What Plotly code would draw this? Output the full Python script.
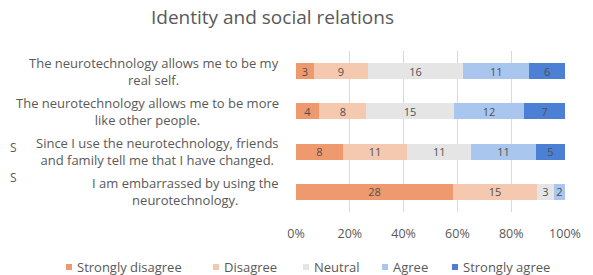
import plotly.graph_objects as go

categories = [
    "The neurotechnology allows me to be my<br>real self.",
    "The neurotechnology allows me to be more<br>like other people.",
    "Since I use the neurotechnology, friends<br>and family tell me that I have changed.",
    "I am embarrassed by using the<br>neurotechnology.",
]
series_names = ["Strongly disagree", "Disagree", "Neutral", "Agree", "Strongly agree"]
strongly_disagree = [3, 4, 8, 28]
disagree = [9, 8, 11, 15]
neutral = [16, 15, 11, 3]
agree = [11, 12, 11, 2]
strongly_agree = [6, 7, 5, 0]
colors = ["#EE9A6E", "#F5C9B0", "#E5E5E5", "#A9C7EE", "#4C80D4"]
tick_vals = [0, 20, 40, 60, 80, 100]
tick_text = ["0%", "20%", "40%", "60%", "80%", "100%"]

values = [strongly_disagree, disagree, neutral, agree, strongly_agree]
keys = ["c%d" % i for i in range(len(categories))]

FONT = "Open Sans"
GREY = "#595959"

# page body has a default 8px margin: compensate so that screen pixels match
OFF = 8
FW, FH = 593, 275

fig = go.Figure()
for name, vals, col in zip(series_names, values, colors):
    fig.add_trace(go.Bar(
        name=name, y=keys, x=vals, orientation="h",
        marker=dict(color=col, line=dict(width=0)),
        text=[str(v) if v else "" for v in vals],
        textposition="inside", insidetextanchor="middle", textangle=0,
        textfont=dict(size=11, color="#505050", family=FONT),
        width=0.4, showlegend=False,
    ))

# plot area in screen pixels
L, R, T, B = 296, 565, 51, 212
W, H = R - L, B - T

def px_x(x):
    return (x - L) / W

def px_y(y):
    return (B - y) / H

annotations = []
for k, c in zip(keys, categories):
    annotations.append(dict(
        x=px_x(281), xref="paper", y=k, yref="y", text=c, showarrow=False,
        xanchor="right", align="center",
        font=dict(size=13, color=GREY, family=FONT),
    ))
for yy in [147, 177]:
    annotations.append(dict(
        x=px_x(OFF), xref="paper", y=px_y(yy), yref="paper", text="S", showarrow=False,
        xanchor="left", yanchor="middle",
        font=dict(size=12, color=GREY, family=FONT),
    ))

# title as annotation so it sits fully inside the figure
annotations.append(dict(
    x=px_x(272), xref="paper", y=px_y(17), yref="paper",
    text="Identity and social relations", showarrow=False,
    xanchor="center", yanchor="middle",
    font=dict(size=19, color=GREY, family=FONT),
))

# custom legend (small square markers close to their labels)
legend_marker_px = [66, 213, 303, 382, 452]
legend_y_px = 267
shapes = []
for name, col, mx in zip(series_names, colors, legend_marker_px):
    shapes.append(dict(
        type="rect", xref="paper", yref="paper",
        x0=px_x(mx), x1=px_x(mx + 6), y0=px_y(legend_y_px + 3), y1=px_y(legend_y_px - 3),
        fillcolor=col, line=dict(width=0),
    ))
    annotations.append(dict(
        x=px_x(mx + 9), xref="paper", y=px_y(legend_y_px), yref="paper", text=name,
        showarrow=False, xanchor="left", yanchor="middle",
        font=dict(size=13, color=GREY, family=FONT),
    ))

fig.update_layout(
    width=FW, height=FH,
    margin=dict(l=L - OFF, r=FW - (R - OFF), t=T - OFF, b=FH - (B - OFF)),
    barmode="stack", barnorm="percent",
    uniformtext=dict(minsize=11, mode="show"),
    paper_bgcolor="white", plot_bgcolor="white",
    xaxis=dict(range=[0, 100], tickvals=tick_vals, ticktext=tick_text,
               showgrid=True, gridcolor="#D9D9D9", gridwidth=1, zeroline=False,
               showline=False, ticks="", ticklabelstandoff=12,
               tickfont=dict(size=12.5, color=GREY, family=FONT)),
    yaxis=dict(categoryorder="array", categoryarray=keys[::-1], showticklabels=False,
               showgrid=False, zeroline=False, showline=False, ticks=""),
    annotations=annotations,
    shapes=shapes,
    showlegend=False,
)
fig.write_html("out.html")
